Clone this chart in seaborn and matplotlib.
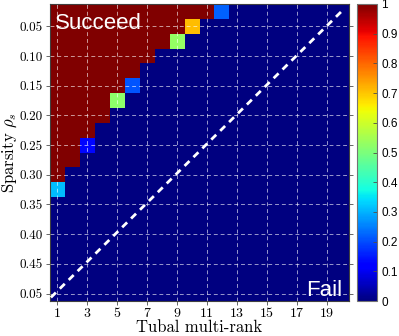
import matplotlib
matplotlib.use('Agg')
import matplotlib.pyplot as plt
import numpy as np
import pandas as pd
import seaborn as sns

# tubal multi-rank (columns) and sparsity levels (rows)
ranks = [1, 2, 3, 4, 5, 6, 7, 8, 9, 10, 11, 12, 13, 14, 15, 16, 17, 18, 19, 20]
sparsity = [0.025, 0.05, 0.075, 0.1, 0.125, 0.15, 0.175, 0.2, 0.225, 0.25,
            0.275, 0.3, 0.325, 0.35, 0.375, 0.4, 0.425, 0.45, 0.475, 0.5]

# how many ranks are recovered every time, for each sparsity level
n_success = [11, 9, 8, 7, 6, 5, 4, 4, 3, 2, 2, 1, 0, 0, 0, 0, 0, 0, 0, 0]
# success rate of the cell right after the last fully recovered rank
edge_rate = [0.22, 0.71, 0.53, 0, 0, 0.21, 0.52, 0, 0, 0.13,
             0, 0, 0.31, 0, 0, 0, 0, 0, 0, 0]

x_ticklabels = ['1', '3', '5', '7', '9', '11', '13', '15', '17', '19']
y_ticklabels = ['0.05', '0.10', '0.15', '0.20', '0.25', '0.30', '0.35', '0.40', '0.45', '0.05']
cbar_ticks = [0, 0.1, 0.2, 0.3, 0.4, 0.5, 0.6, 0.7, 0.8, 0.9, 1]
cbar_ticklabels = ['0', '0.1', '0.2', '0.3', '0.4', '0.5', '0.6', '0.7', '0.8', '0.9', '1']

rate = np.zeros((len(sparsity), len(ranks)))
for i, n in enumerate(n_success):
    rate[i, :n] = 1
    if n < len(ranks):
        rate[i, n] = edge_rate[i]
df = pd.DataFrame(rate, index=sparsity, columns=ranks)

plt.rcParams['mathtext.fontset'] = 'cm'
plt.rcParams['axes.formatter.use_mathtext'] = True

fig = plt.figure(figsize=(3.99, 3.36), dpi=100)
ax = fig.add_axes([50 / 399, 1 - 301 / 336, 299 / 399, 297 / 336])
cax = fig.add_axes([357 / 399, 1 - 301 / 336, 20 / 399, 297 / 336])

sns.heatmap(df, ax=ax, cbar_ax=cax, cmap='jet', vmin=0, vmax=1,
            xticklabels=False, yticklabels=False)

# ticks every other cell
ax.set_xticks([ranks.index(int(t)) + 0.5 for t in x_ticklabels])
ax.set_xticklabels(x_ticklabels, fontfamily='cmr10', fontsize=10, rotation=0)
ax.set_yticks([1.5 + 2 * k for k in range(len(y_ticklabels))])
ax.set_yticklabels(y_ticklabels, fontfamily='cmr10', fontsize=9.5, rotation=0)
ax.tick_params(axis='both', direction='out', length=3, width=0.6, color='0.3', pad=2,
               right=True)

for s in ax.spines.values():
    s.set_visible(True)
    s.set_color('0.25')
    s.set_linewidth(0.8)

ax.set_axisbelow(False)
ax.grid(True, color='white', linestyle=(0, (4, 3)), linewidth=0.7, alpha=0.6)

# diagonal reference line
ax.plot([0.003, 0.985], [0.012, 0.985], transform=ax.transAxes, color='white',
        linestyle=(0, (2.5, 2)), linewidth=2, zorder=5)

ax.text(0.017, 0.916, 'Succeed', transform=ax.transAxes, color='white',
        fontsize=16, fontfamily='Liberation Sans', va='baseline', ha='left')
ax.text(0.858, 0.017, 'Fail', transform=ax.transAxes, color='white',
        fontsize=16, fontfamily='Liberation Sans', va='baseline', ha='left')

ax.set_xlabel('Tubal multi-rank', fontfamily='cmr10', fontsize=12, labelpad=0)
ax.set_ylabel(r'Sparsity $\rho_s$', fontfamily='cmr10', fontsize=12)
ax.yaxis.set_label_coords(-0.105, 0.5)

cb = ax.collections[0].colorbar
cb.set_ticks(cbar_ticks)
cb.set_ticklabels(cbar_ticklabels)
cb.outline.set_linewidth(0.8)
cb.outline.set_edgecolor('0.45')
cb.ax.tick_params(direction='in', length=3, width=0.6, color='0.3', pad=3, labelsize=8.5)
for t in cb.ax.get_yticklabels():
    t.set_fontfamily('Liberation Sans')

fig.savefig('out.png', dpi=100)
